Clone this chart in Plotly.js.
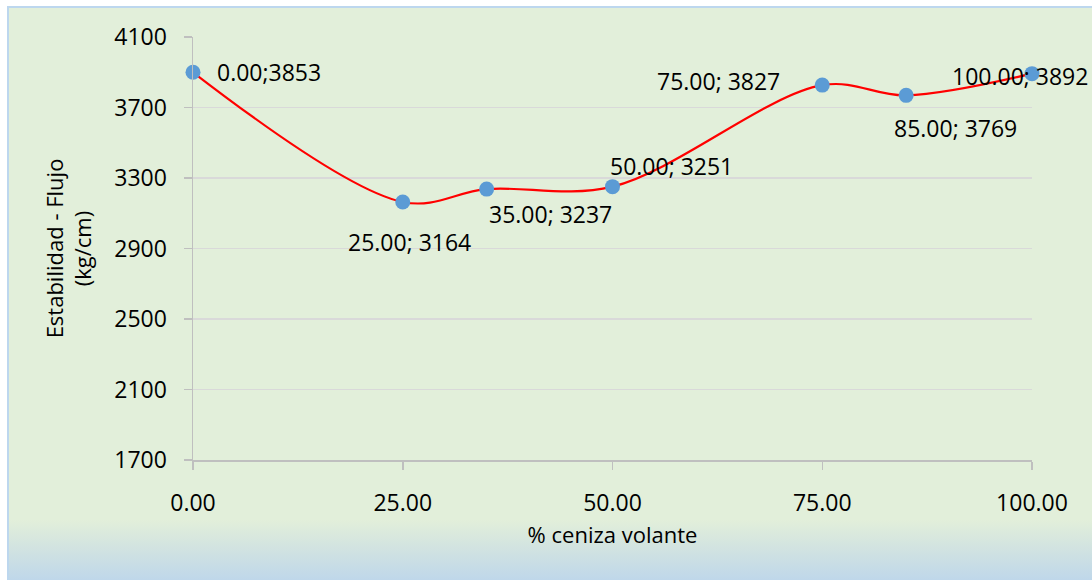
<!DOCTYPE html>
<html>
<head>
<meta charset="utf-8">
<script src="https://cdn.plot.ly/plotly-3.0.1.min.js"></script>
<style>
  html, body { margin: 0; padding: 0; width: 1092px; height: 580px; overflow: hidden; background: #ffffff; }
  #frame {
    position: absolute; left: 7px; top: 6px; width: 1085px; height: 574px;
    box-sizing: border-box;
    border-left: 2px solid #BDD7EE; border-top: 2px solid #BDD7EE;
    background: linear-gradient(to bottom, #E2EFDA 0%, #E2EFDA 89.5%, #D3E4E0 94%, #BFD7EA 100%);
  }
  #chart { position: absolute; left: 0; top: 0; width: 1092px; height: 580px; }
</style>
</head>
<body>
<div id="frame"></div>
<div id="chart"></div>
<script>
  // Data
  const ashPercent = [0, 25, 35, 50, 75, 85, 100];
  const stability = [3900, 3164, 3237, 3251, 3827, 3769, 3892];
  const pointLabels = ["0.00;3853", "25.00; 3164", "35.00; 3237", "50.00; 3251", "75.00; 3827", "85.00; 3769", "100.00; 3892"];
  const yTicks = [1700, 2100, 2500, 2900, 3300, 3700, 4100];
  const xTicks = [0, 25, 50, 75, 100];
  const xTickLabels = ["0.00", "25.00", "50.00", "75.00", "100.00"];

  // label placement (pixel offsets from the point)
  const labelPlacement = [
    {xanchor: "left", xshift: 22, yshift: 0},
    {xanchor: "center", xshift: 7, yshift: -40},
    {xanchor: "left", xshift: 0, yshift: -25},
    {xanchor: "left", xshift: -5, yshift: 21},
    {xanchor: "right", xshift: -40, yshift: 4},
    {xanchor: "center", xshift: 49, yshift: -33},
    {xanchor: "center", xshift: -12, yshift: -2}
  ];

  const FONT = "Open Sans, Liberation Sans, sans-serif";
  const FS = 23;

  const trace = {
    x: ashPercent,
    y: stability,
    type: "scatter",
    mode: "lines+markers",
    line: {color: "#FF0000", width: 2.2, shape: "spline", smoothing: 1},
    marker: {color: "#5B9BD5", size: 15},
    cliponaxis: false,
    hoverinfo: "x+y"
  };

  const annotations = ashPercent.map((xv, i) => ({
    x: xv, y: stability[i], xref: "x", yref: "y",
    text: pointLabels[i], showarrow: false,
    xanchor: labelPlacement[i].xanchor, yanchor: "middle",
    xshift: labelPlacement[i].xshift, yshift: labelPlacement[i].yshift,
    font: {family: FONT, size: FS, color: "#000000"}
  }));

  const layout = {
    width: 1092, height: 580,
    margin: {l: 193, r: 60, t: 37, b: 120},
    paper_bgcolor: "rgba(0,0,0,0)",
    plot_bgcolor: "rgba(0,0,0,0)",
    showlegend: false,
    font: {family: FONT, size: FS, color: "#000000"},
    xaxis: {
      range: [0, 100],
      tickvals: xTicks, ticktext: xTickLabels,
      showgrid: false, zeroline: false,
      showline: true, linecolor: "#BFBFBF", linewidth: 1.5,
      ticks: "outside", ticklen: 8, tickcolor: "#BFBFBF", tickwidth: 1.5,
      ticklabelstandoff: 14,
      tickfont: {family: FONT, size: FS, color: "#000000"},
      title: {text: "% ceniza volante", font: {family: FONT, size: 22, color: "#000000"}, standoff: 10}
    },
    yaxis: {
      range: [1700, 4100],
      tickvals: yTicks,
      showgrid: true, gridcolor: "#D9D9D9", gridwidth: 1.5,
      zeroline: false,
      showline: true, linecolor: "#BFBFBF", linewidth: 1.5,
      ticks: "outside", ticklen: 8, tickcolor: "#BFBFBF", tickwidth: 1.5,
      ticklabelstandoff: 12,
      tickfont: {family: FONT, size: FS, color: "#000000"},
      title: {text: "Estabilidad - Flujo<br>(kg/cm)", font: {family: FONT, size: 22, color: "#000000"}, standoff: 16}
    },
    annotations: annotations
  };

  Plotly.newPlot("chart", [trace], layout, {displayModeBar: false, staticPlot: true});
</script>
</body>
</html>
